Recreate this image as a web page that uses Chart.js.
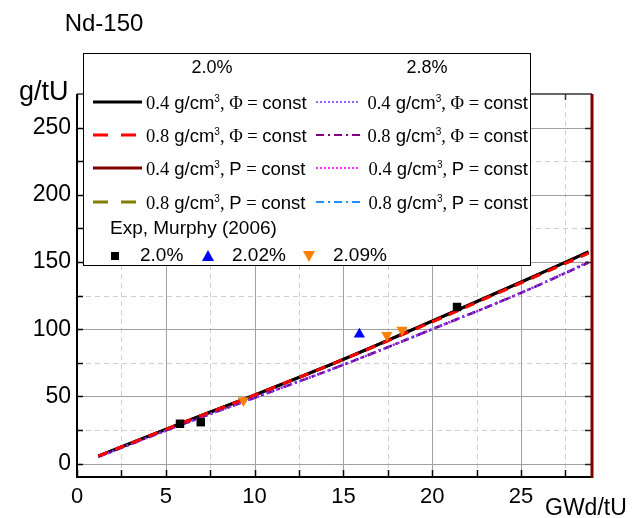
<!DOCTYPE html>
<html><head><meta charset="utf-8">
<script src="https://cdn.jsdelivr.net/npm/chart.js@4/dist/chart.umd.min.js"></script>
<style>html,body{margin:0;padding:0;background:#fff}#wrap{width:639px;height:518px}</style>
</head><body><div id="wrap"><canvas id="c" width="639" height="518"></canvas></div>
<script>
// ---- data ----
const burnup      = [1.2, 5, 10, 15, 20, 25, 28.8];
const nd20_04_phi = [5.5, 25.5, 51, 77.5, 106, 135, 157.5];
const nd20_08_phi = [5.5, 25.5, 51, 77.5, 105.5, 134.5, 156.5];
const nd20_04_P   = [5.5, 25.5, 51, 77.5, 106, 135, 157.5];
const nd20_08_P   = [5.5, 25.5, 51, 77.5, 105.5, 134.5, 156.5];
const nd28_04_phi = [5, 24.5, 49, 73.5, 100, 127, 150];
const nd28_08_phi = [5, 24.5, 49, 73.5, 100, 127, 149.5];
const nd28_04_P   = [5, 24.5, 49, 73.5, 100, 127, 150];
const nd28_08_P   = [5, 24.5, 49, 73.5, 100, 127, 149.5];
const exp20_x  = [5.8, 6.97, 21.4];
const exp20_y  = [29.6, 30.8, 116.5];
const exp202_x = [15.9];
const exp202_y = [96.3];
const exp209_x = [9.37, 17.45, 18.3];
const exp209_y = [47, 95.5, 99.3];
const xTicks = [0, 5, 10, 15, 20, 25];
const yTicks = [0, 50, 100, 150, 200, 250];

const SANS = '"Liberation Sans", Arial, sans-serif';
const SERIF = '"Liberation Serif", "Times New Roman", serif';

function pts(xs, ys){ return xs.map((v,i)=>({x:v, y:ys[i]})); }
function lineDs(label, ys, color, width, dash, order){
  return {type:'line', label, data:pts(burnup, ys), borderColor:color, borderWidth:width,
    borderDash:dash, pointRadius:0, fill:false, cubicInterpolationMode:'monotone', order};
}
function scatDs(label, xs, ys, color, style, r, rot, order){
  return {type:'scatter', label, data:pts(xs, ys), backgroundColor:color, borderColor:color,
    borderWidth:0, pointStyle:style, pointRadius:r, pointRotation:rot, order};
}
function minorOf(t, lo, hi){
  const s = t[1]-t[0], r = [];
  const b = t[0]-s/2; if (b > lo) r.push(b);
  t.forEach(v=>{ if (v+s/2 < hi) r.push(v+s/2); });
  return r;
}
function seg(ctx,x1,y1,x2,y2){ ctx.beginPath(); ctx.moveTo(x1,y1); ctx.lineTo(x2,y2); ctx.stroke(); }

const legendRows = [
  [{c:'#000000', w:3, d:[], dens:'0.4', m:'Φ'}, {c:'#7f3fff', w:1.6, d:[2,2], dens:'0.4', m:'Φ'}],
  [{c:'#ff0000', w:3, d:[15,13], dens:'0.8', m:'Φ'}, {c:'#800080', w:2, d:[8,4,2,4], dens:'0.8', m:'Φ'}],
  [{c:'#800000', w:3, d:[], dens:'0.4', m:'P'}, {c:'#ff00ff', w:1.6, d:[2,2], dens:'0.4', m:'P'}],
  [{c:'#808000', w:3, d:[15,13], dens:'0.8', m:'P'}, {c:'#1e90ff', w:2, d:[8,4,2,4], dens:'0.8', m:'P'}]
];
const FS = 18.5;
function richParts(dens, m){
  return [
    {t:dens, f:FS+'px '+SERIF},
    {t:' g/cm', f:FS+'px '+SANS},
    {t:'3', f:'10px '+SANS, dy:-7},
    {t:', ', f:FS+'px '+SERIF},
    {t:m, f:(m==='Φ'?FS+'px '+SERIF:FS+'px '+SANS)},
    {t:' = ', f:FS+'px '+SERIF},
    {t:'const', f:FS+'px '+SANS}
  ];
}
function drawRich(ctx, parts, x, y, align){
  let w = 0;
  parts.forEach(p=>{ ctx.font=p.f; p.w = ctx.measureText(p.t).width; w += p.w; });
  let cx = align==='right' ? x - w : x;
  ctx.textAlign='left'; ctx.textBaseline='alphabetic';
  parts.forEach(p=>{ ctx.font=p.f; ctx.fillText(p.t, cx, y + (p.dy||0)); cx += p.w; });
  return align==='right' ? x - w : x + w;
}

const frame = {
  id:'frame',
  beforeDatasetsDraw(chart){
    const {ctx, chartArea:a, scales:{x, y}} = chart;
    ctx.save();
    ctx.lineWidth = 1;
    ctx.strokeStyle = '#d0d0d0'; ctx.setLineDash([5,4]);
    minorOf(xTicks, x.min, x.max).forEach(v=>{ const p=Math.round(x.getPixelForValue(v))+0.5; seg(ctx,p,a.top,p,a.bottom); });
    minorOf(yTicks, y.min, y.max).forEach(v=>{ const p=Math.round(y.getPixelForValue(v))+0.5; seg(ctx,a.left,p,a.right,p); });
    ctx.setLineDash([]); ctx.strokeStyle = '#a0a0a0';
    xTicks.forEach(v=>{ const p=Math.round(x.getPixelForValue(v))+0.5; if (p>a.left+1) seg(ctx,p,a.top,p,a.bottom); });
    yTicks.forEach(v=>{ const p=Math.round(y.getPixelForValue(v))+0.5; seg(ctx,a.left,p,a.right,p); });
    ctx.restore();
  },
  afterDatasetsDraw(chart){
    const {ctx, chartArea:a, scales:{x, y}} = chart;
    ctx.save();
    const xs = xTicks.concat(minorOf(xTicks, x.min, x.max));
    const ys = yTicks.concat(minorOf(yTicks, y.min, y.max));
    // top axis
    ctx.strokeStyle='#333'; ctx.lineWidth=1.5;
    seg(ctx, a.left, a.top, a.right, a.top);
    xs.forEach(v=>{ const p=Math.round(x.getPixelForValue(v))+0.5; seg(ctx,p,a.top,p,a.top+6); });
    // bottom axis
    ctx.strokeStyle='#000'; ctx.lineWidth=2;
    seg(ctx, a.left-1, a.bottom, a.right, a.bottom);
    ctx.lineWidth=1.5;
    xs.forEach(v=>{ const p=Math.round(x.getPixelForValue(v))+0.5; seg(ctx,p,a.bottom,p,a.bottom-7); });
    // left axis
    ctx.lineWidth=2;
    seg(ctx, a.left, a.top, a.left, a.bottom+1);
    ctx.lineWidth=1.5;
    ys.forEach(v=>{ const p=Math.round(y.getPixelForValue(v))+0.5; seg(ctx,a.left,p,a.left+6,p); });
    // right axis (dark red)
    ctx.strokeStyle='#222'; ctx.lineWidth=1.5;
    ys.forEach(v=>{ const p=Math.round(y.getPixelForValue(v))+0.5; seg(ctx,a.right-7,p,a.right,p); });
    ctx.strokeStyle='#800000'; ctx.lineWidth=3;
    seg(ctx, a.right, a.top, a.right, a.bottom+1);

    // texts
    ctx.fillStyle='#000';
    ctx.font='24px '+SANS; ctx.textAlign='center'; ctx.textBaseline='alphabetic';
    ctx.fillText('Nd-150', 104, 31);
    ctx.font='27px '+SANS; ctx.textAlign='left';
    ctx.fillText('g/tU', 19, 100);
    ctx.font='23px '+SANS;
    ctx.fillText('GWd/tU', 545, 515);

    // legend box
    const L=83, T=53, R=530, B=265;
    ctx.fillStyle='#fff'; ctx.fillRect(L, T, R-L, B-T);
    ctx.strokeStyle='#000'; ctx.lineWidth=1; ctx.strokeRect(L+0.5, T+0.5, R-L, B-T);
    ctx.fillStyle='#000';
    ctx.font='18px '+SANS; ctx.textAlign='center'; ctx.textBaseline='middle';
    ctx.fillText('2.0%', 212, 68);
    ctx.fillText('2.8%', 427, 68);
    const rowY = [102, 135, 168, 202];
    legendRows.forEach((row, i)=>{
      const yy = rowY[i];
      // left column
      let e = row[0];
      ctx.strokeStyle=e.c; ctx.lineWidth=e.w; ctx.setLineDash(e.d);
      seg(ctx, 93, yy, 142, yy);
      ctx.setLineDash([]);
      drawRich(ctx, richParts(e.dens, e.m), 146, yy+7, 'left');
      // right column
      e = row[1];
      drawRich(ctx, richParts(e.dens, e.m), 528, yy+7, 'right');
      ctx.strokeStyle=e.c; ctx.lineWidth=e.w; ctx.setLineDash(e.d);
      seg(ctx, 316, yy, 360, yy);
      ctx.setLineDash([]);
    });
    ctx.font='19px '+SANS; ctx.textAlign='left'; ctx.textBaseline='middle';
    ctx.fillText('Exp, Murphy (2006)', 110, 229);
    const my = 256;
    ctx.fillStyle='#000'; ctx.fillRect(111, my-4, 8, 8);
    ctx.fillStyle='#0000ff'; ctx.beginPath(); ctx.moveTo(208, my-6); ctx.lineTo(214, my+5); ctx.lineTo(202, my+5); ctx.closePath(); ctx.fill();
    ctx.fillStyle='#ff8000'; ctx.beginPath(); ctx.moveTo(309, my+6); ctx.lineTo(315, my-5); ctx.lineTo(303, my-5); ctx.closePath(); ctx.fill();
    ctx.fillStyle='#000'; ctx.font='19px '+SANS;
    ctx.fillText('2.0%', 140, my);
    ctx.fillText('2.02%', 232, my);
    ctx.fillText('2.09%', 333, my);
    ctx.restore();
  }
};

new Chart(document.getElementById('c'), {
  data:{ datasets:[
    scatDs('2.0%', exp20_x, exp20_y, '#000000', 'rect', 6, 0, 0),
    scatDs('2.02%', exp202_x, exp202_y, '#0000ff', 'triangle', 6.5, 0, 1),
    scatDs('2.09%', exp209_x, exp209_y, '#ff8000', 'triangle', 6.5, 180, 2),
    lineDs('2.0% 0.8 g/cm3 Φ=const', nd20_08_phi, '#ff0000', 3, [10,8], 3),
    lineDs('2.8% 0.4 g/cm3 Φ=const', nd28_04_phi, '#7f3fff', 2.5, [2,3], 4),
    lineDs('2.8% 0.8 g/cm3 Φ=const', nd28_08_phi, '#800080', 2.5, [8,4,2,4], 5),
    lineDs('2.0% 0.4 g/cm3 Φ=const', nd20_04_phi, '#000000', 3, [], 6),
    lineDs('2.8% 0.4 g/cm3 P=const', nd28_04_P, '#ff00ff', 2, [2,3], 7),
    lineDs('2.8% 0.8 g/cm3 P=const', nd28_08_P, '#1e90ff', 2, [8,4,2,4], 8),
    lineDs('2.0% 0.8 g/cm3 P=const', nd20_08_P, '#808000', 3, [10,8], 9),
    lineDs('2.0% 0.4 g/cm3 P=const', nd20_04_P, '#800000', 3, [], 10)
  ]},
  options:{
    responsive:false, animation:false, events:[],
    layout:{padding:{top:94, right:47, bottom:0, left:0}},
    plugins:{legend:{display:false}, tooltip:{enabled:false}, title:{display:false}},
    scales:{
      x:{type:'linear', min:0, max:29,
        afterBuildTicks:s=>{ s.ticks = xTicks.map(v=>({value:v})); },
        afterFit:s=>{ s.height = 41; },
        grid:{display:false, drawTicks:false}, border:{display:false},
        ticks:{color:'#000', font:{family:SANS, size:22}, padding:7, maxRotation:0, autoSkip:false}},
      y:{type:'linear', min:-10, max:275,
        afterBuildTicks:s=>{ s.ticks = yTicks.map(v=>({value:v})); },
        afterFit:s=>{ s.width = 77; },
        grid:{display:false, drawTicks:false}, border:{display:false},
        ticks:{color:'#000', font:{family:SANS, size:23}, padding:6, autoSkip:false}}
    }
  },
  plugins:[frame]
});
</script>
</body></html>
